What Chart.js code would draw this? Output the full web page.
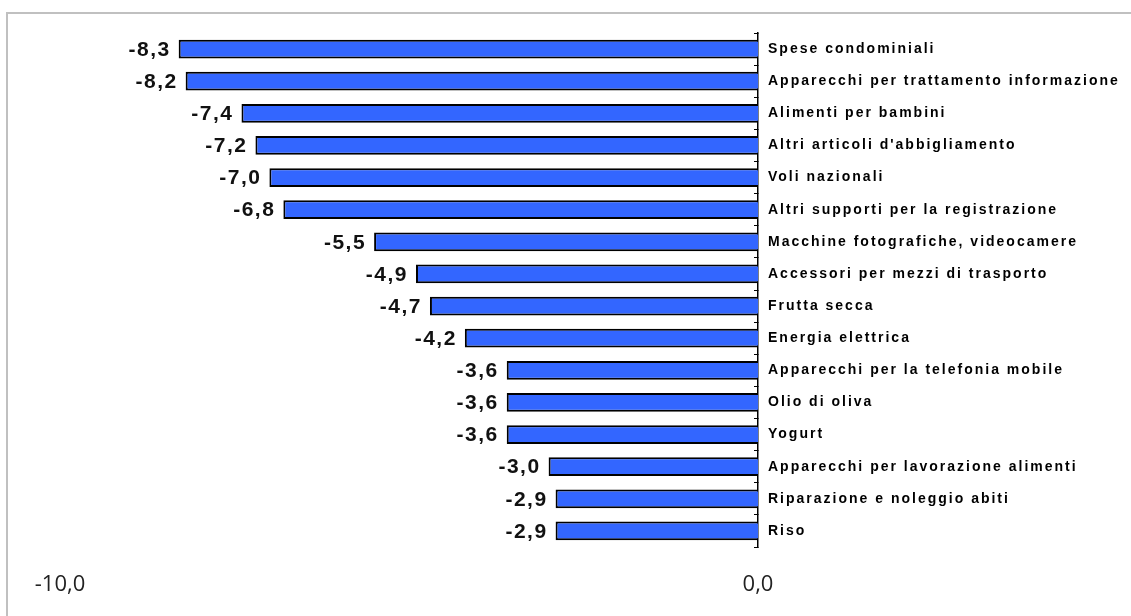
<!DOCTYPE html>
<html>
<head>
<meta charset="utf-8">
<script src="https://cdn.jsdelivr.net/npm/chart.js@4/dist/chart.umd.min.js"></script>
<style>
  body { margin: 0; background: #fff; }
  #wrap { position: relative; width: 1131px; height: 616px; }
  #frame { position: absolute; left: 6px; top: 12px; right: 0; bottom: 0; border-left: 2px solid #c0c0c0; border-top: 2px solid #c0c0c0; }
  canvas { position: absolute; left: 0; top: 0; }
</style>
</head>
<body>
<div id="wrap">
  <div id="frame"></div>
  <canvas id="chart" width="1131" height="616"></canvas>
</div>
<script>
const categories = [
  'Spese condominiali',
  'Apparecchi per trattamento informazione',
  'Alimenti per bambini',
  "Altri articoli d'abbigliamento",
  'Voli nazionali',
  'Altri supporti per la registrazione',
  'Macchine fotografiche, videocamere',
  'Accessori per mezzi di trasporto',
  'Frutta secca',
  'Energia elettrica',
  'Apparecchi per la telefonia mobile',
  'Olio di oliva',
  'Yogurt',
  'Apparecchi per lavorazione alimenti',
  'Riparazione e noleggio abiti',
  'Riso'
];
const values = [-8.3, -8.2, -7.4, -7.2, -7.0, -6.8, -5.5, -4.9, -4.7, -4.2, -3.6, -3.6, -3.6, -3.0, -2.9, -2.9];
const xTicks = [-10, 0];

// italian style decimal comma
const fmt = v => v.toFixed(1).replace('.', ',');

// value labels to the left of each bar
const valueLabels = {
  id: 'valueLabels',
  afterDatasetsDraw(chart) {
    const ctx = chart.ctx;
    const meta = chart.getDatasetMeta(0);
    ctx.save();
    ctx.font = 'bold 21px "Liberation Sans", Arial, sans-serif';
    ctx.letterSpacing = '1.5px';
    ctx.fillStyle = '#111';
    ctx.textAlign = 'right';
    ctx.textBaseline = 'middle';
    meta.data.forEach((bar, i) => {
      ctx.fillText(fmt(values[i]), bar.x - 8, bar.y + 1);
    });
    ctx.restore();
  }
};

new Chart(document.getElementById('chart'), {
  type: 'bar',
  data: {
    labels: categories,
    datasets: [{
      data: values,
      backgroundColor: '#3366ff',
      borderColor: '#000',
      borderWidth: 2,
      barPercentage: 0.58,
      categoryPercentage: 1
    }]
  },
  options: {
    indexAxis: 'y',
    responsive: false,
    animation: false,
    layout: { padding: { left: 60, top: 33, right: 0, bottom: 0 } },
    plugins: { legend: { display: false }, tooltip: { enabled: false } },
    scales: {
      x: {
        min: -10,
        max: 0,
        afterBuildTicks: scale => { scale.ticks = xTicks.map(v => ({ value: v })); },
        afterFit: scale => { scale.height = 69; },
        grid: { display: false, drawTicks: false },
        border: { display: false },
        ticks: {
          padding: 25,
          maxRotation: 0,
          color: '#222',
          font: { family: '"Open Sans", sans-serif', size: 22 },
          callback: v => fmt(v)
        }
      },
      y: {
        position: 'right',
        afterFit: scale => { scale.width = 373; },
        afterUpdate: scale => {
          // letter-spaced category labels
          if (!scale._spaced) {
            const orig = scale.drawLabels;
            scale.drawLabels = function (area) {
              this.ctx.save();
              this.ctx.letterSpacing = '2px';
              orig.call(this, area);
              this.ctx.restore();
            };
            scale._spaced = true;
          }
        },
        grid: { drawOnChartArea: false, drawTicks: true, tickLength: -4, color: '#000', lineWidth: 1 },
        border: { display: true, color: '#000', width: 1.5 },
        ticks: {
          padding: 14,
          color: '#000',
          font: { family: '"Liberation Sans", Arial, sans-serif', size: 14, weight: 'bold' }
        }
      }
    }
  },
  plugins: [valueLabels]
});
</script>
</body>
</html>
